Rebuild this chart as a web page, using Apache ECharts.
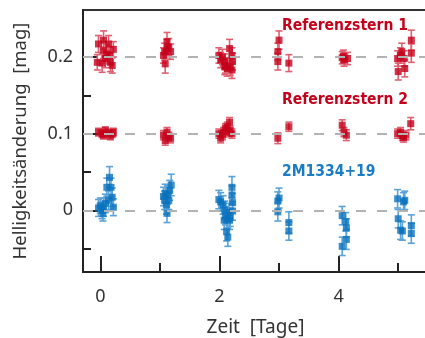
<!DOCTYPE html>
<html><head><meta charset="utf-8">
<script src="https://cdn.jsdelivr.net/npm/echarts@6/dist/echarts.min.js"></script>
<style>html,body{margin:0;padding:0;background:#fff}#c{width:425px;height:338px}</style>
</head><body><div id="c"></div>
<script>
// Referenzstern 1: time [days], magnitude change, error
const tRef1 = [-0.03,0.055,0.14,0.22,0.055,0.11,0.03,0.17,0.085,0.155,0.20,-0.05,
  1.08,1.12,1.15,1.18,1.09,1.12,1.06,
  1.99,2.05,2.17,2.21,2.09,2.13,2.18,2.21,2.02,2.10,2.22,2.09,
  3.00,2.98,2.98,3.165,
  4.06,4.09,4.15,4.08,
  4.99,5.06,5.04,5.10,5.00,5.11,5.22,5.22];
const yRef1 = [0.217,0.222,0.217,0.210,0.209,0.204,0.192,0.193,0.198,0.202,0.189,0.193,
  0.207,0.220,0.213,0.207,0.191,0.211,0.202,
  0.202,0.200,0.211,0.202,0.194,0.185,0.187,0.183,0.196,0.189,0.194,0.187,
  0.222,0.207,0.194,0.192,
  0.199,0.196,0.198,0.201,
  0.198,0.207,0.202,0.198,0.181,0.185,0.222,0.205];
const eRef1 = [0.011,0.012,0.011,0.010,0.011,0.012,0.012,0.012,0.012,0.011,0.010,0.010,
  0.011,0.012,0.011,0.010,0.012,0.012,0.010,
  0.010,0.010,0.012,0.010,0.010,0.010,0.011,0.011,0.010,0.010,0.011,0.010,
  0.012,0.011,0.011,0.011,
  0.008,0.008,0.008,0.008,
  0.010,0.011,0.010,0.010,0.011,0.011,0.013,0.012];

// Referenzstern 2
const tRef2 = [-0.03,0.03,0.085,0.14,0.20,0.22,0.055,0.17,
  1.06,1.12,1.15,1.09,1.18,
  1.99,2.02,2.07,2.10,2.13,2.17,2.18,2.21,2.05,2.16,
  2.98,3.165,
  4.06,4.09,4.13,
  4.99,5.04,5.07,5.09,5.13,5.21];
const yRef2 = [0.102,0.100,0.104,0.101,0.100,0.102,0.098,0.097,
  0.098,0.102,0.096,0.091,0.094,
  0.100,0.094,0.102,0.107,0.109,0.115,0.104,0.100,0.098,0.102,
  0.094,0.109,
  0.111,0.102,0.098,
  0.100,0.102,0.097,0.095,0.098,0.113];
const eRef2 = [0.005,0.005,0.005,0.005,0.005,0.005,0.005,0.005,
  0.006,0.006,0.006,0.006,0.006,
  0.006,0.006,0.006,0.006,0.006,0.006,0.006,0.006,0.006,0.006,
  0.007,0.006,
  0.007,0.006,0.007,
  0.006,0.006,0.006,0.006,0.006,0.008];

// 2M1334+19
const tTgt = [-0.03,0.03,0.055,0.085,0.11,0.155,0.18,0.20,0.22,0.045,0.14,0.0,
  1.06,1.09,1.13,1.165,1.19,1.12,1.11,1.15,1.08,
  1.99,2.02,2.06,2.09,2.08,2.10,2.13,2.12,2.14,2.17,2.18,2.22,2.22,2.21,2.21,2.16,
  3.00,2.98,2.98,3.165,3.165,
  4.06,4.12,4.13,4.13,4.06,
  4.99,5.00,5.04,5.07,5.09,5.11,5.22,5.22];
const yTgt = [0.003,0.000,0.004,0.009,0.030,0.043,0.030,0.017,0.004,-0.004,0.013,0.006,
  0.018,0.022,0.020,0.026,0.033,-0.004,0.007,0.013,0.013,
  0.014,0.011,0.007,0.000,-0.013,-0.007,-0.011,-0.028,-0.035,-0.013,-0.009,-0.001,0.010,0.020,0.030,-0.003,
  0.016,0.012,-0.002,-0.016,-0.027,
  -0.007,-0.015,-0.023,-0.038,-0.047,
  0.015,-0.011,-0.026,-0.027,0.011,0.013,-0.020,-0.030];
const eTgt = [0.011,0.011,0.012,0.012,0.012,0.014,0.012,0.012,0.011,0.010,0.012,0.010,
  0.012,0.012,0.012,0.013,0.014,0.012,0.012,0.012,0.012,
  0.012,0.012,0.012,0.012,0.012,0.012,0.012,0.012,0.012,0.012,0.012,0.012,0.012,0.012,0.014,0.012,
  0.013,0.012,0.012,0.014,0.012,
  0.012,0.012,0.012,0.013,0.012,
  0.012,0.012,0.012,0.012,0.012,0.012,0.014,0.013];

const yMajor = [0, 0.1, 0.2];
const yMinor = [-0.05, 0.05, 0.15];
const xMajor = [0, 2, 4];
const xMinor = [1, 3, 5];
const refLevels = [0, 0.1, 0.2];

const RED = '#c4001a', RED_ERR = '#e06070';
const BLUE = '#0a72bd', BLUE_ERR = '#5aa3da';
const FONT = 'Noto Sans';
const LBLFONT = 'bold 15.5px "DejaVu Sans Condensed", sans-serif';

function pts(t, y) { return t.map((v, i) => [v, y[i]]); }
function errs(t, y, e) { return t.map((v, i) => [v, y[i] - e[i], y[i] + e[i]]); }

function errSeries(data, color) {
  return {
    type: 'custom', data: data, z: 3,
    renderItem: function (params, api) {
      const x = api.value(0);
      const lo = api.coord([x, api.value(1)]);
      const hi = api.coord([x, api.value(2)]);
      const w = 3.5;
      const st = { stroke: color, lineWidth: 1.6 };
      return { type: 'group', children: [
        { type: 'line', shape: { x1: lo[0], y1: lo[1], x2: hi[0], y2: hi[1] }, style: st },
        { type: 'line', shape: { x1: lo[0] - w, y1: lo[1], x2: lo[0] + w, y2: lo[1] }, style: st },
        { type: 'line', shape: { x1: hi[0] - w, y1: hi[1], x2: hi[0] + w, y2: hi[1] }, style: st }
      ]};
    },
    encode: { x: 0, y: [1, 2] }
  };
}
function ptSeries(data, color) {
  return { type: 'scatter', data: data, symbol: 'rect', symbolSize: 7, z: 4,
    itemStyle: { color: color } };
}

const chart = echarts.init(document.getElementById('c'), null, { renderer: 'canvas' });
const axisCol = '#222';
chart.setOption({
  animation: false,
  grid: { left: 83, top: 10, right: -3, bottom: 66, outerBoundsMode: 'none', containLabel: false,
    show: true, borderColor: '#333', borderWidth: 2, backgroundColor: 'transparent' },
  xAxis: [
    { type: 'value', min: -0.29, max: 5.5,
      name: 'Zeit  [Tage]', nameLocation: 'middle', nameGap: 46,
      nameTextStyle: { fontFamily: FONT, fontSize: 19, color: '#333' },
      axisLine: { show: true, onZero: false, lineStyle: { color: axisCol, width: 2 } },
      axisTick: { show: true, inside: true, length: 16, customValues: xMajor, lineStyle: { color: axisCol, width: 2 } },
      axisLabel: { customValues: xMajor, margin: 16, fontFamily: FONT, fontSize: 18, color: '#333' },
      splitLine: { show: false } },
    { type: 'value', min: -0.29, max: 5.5, position: 'bottom',
      axisLine: { show: false, onZero: false },
      axisTick: { show: true, inside: true, length: 9, customValues: xMinor, lineStyle: { color: axisCol, width: 2 } },
      axisLabel: { show: false }, splitLine: { show: false } }
  ],
  yAxis: [
    { type: 'value', min: -0.0805, max: 0.2613,
      name: 'Helligkeitsänderung  [mag]', nameLocation: 'middle', nameGap: 53,
      nameTextStyle: { fontFamily: FONT, fontSize: 18.5, color: '#333' },
      axisLine: { show: true, onZero: false, lineStyle: { color: axisCol, width: 2 } },
      axisTick: { show: true, inside: true, length: 15, customValues: yMajor, lineStyle: { color: axisCol, width: 2 } },
      axisLabel: { customValues: yMajor, margin: 10, fontFamily: FONT, fontSize: 18, color: '#333',
        formatter: v => String(v) },
      splitLine: { show: false } },
    { type: 'value', min: -0.0805, max: 0.2613, position: 'left',
      axisLine: { show: false, onZero: false },
      axisTick: { show: true, inside: true, length: 8, customValues: yMinor, lineStyle: { color: axisCol, width: 2 } },
      axisLabel: { show: false }, splitLine: { show: false } }
  ],
  series: [
    { type: 'line', data: [], z: 1, silent: true,
      markLine: { silent: true, symbol: ['none', 'none'], label: { show: false },
        lineStyle: { color: '#b3b3b3', width: 2, type: [10, 11] },
        data: refLevels.map(v => ({ yAxis: v })) } },
    errSeries(errs(tRef1, yRef1, eRef1), RED_ERR),
    errSeries(errs(tRef2, yRef2, eRef2), RED_ERR),
    errSeries(errs(tTgt, yTgt, eTgt), BLUE_ERR),
    ptSeries(pts(tRef1, yRef1), RED),
    ptSeries(pts(tRef2, yRef2), RED),
    ptSeries(pts(tTgt, yTgt), BLUE)
  ],
  graphic: [
    { type: 'text', left: 282, top: 18, z: 10, style: { text: 'Referenzstern 1', fill: RED, font: LBLFONT } },
    { type: 'text', left: 282, top: 92, z: 10, style: { text: 'Referenzstern 2', fill: RED, font: LBLFONT } },
    { type: 'text', left: 282, top: 164, z: 10, style: { text: '2M1334+19', fill: '#1a7cc4', font: LBLFONT } }
  ]
});
</script></body></html>
